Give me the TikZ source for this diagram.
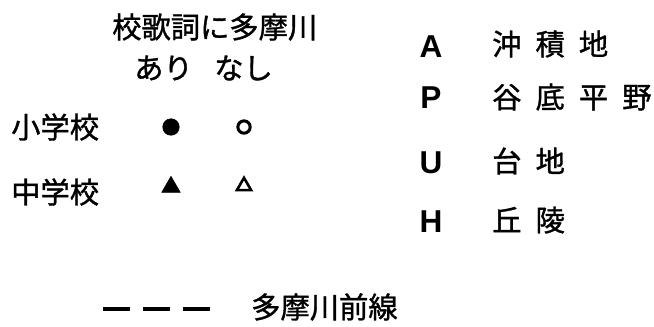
\documentclass[tikz,border=0pt]{standalone}
\usepackage{fontspec}
\setmainfont{Noto Sans CJK JP}[FakeBold=1.2]
\newfontfamily\keyfont{Liberation Sans}
\usetikzlibrary{shapes.geometric, positioning}
\newcommand{\wsp}{\hspace{12pt}}
\tikzset{
  jlabel/.style={font=\fontsize{25}{29}\selectfont, inner sep=0pt, anchor=west},
  keyletter/.style={font=\fontsize{27}{30}\keyfont\bfseries, inner sep=0pt},
  fullmark/.style={fill=black, draw=black, line width=0.6pt, inner sep=0pt},
  openmark/.style={fill=white, draw=black, line width=2.6pt, inner sep=0pt},
  frontline/.style={draw=black, line width=4pt, dash pattern=on 23pt off 11pt},
}

\begin{document}
\begin{tikzpicture}[x=0.03cm, y=-0.03cm]
  \useasboundingbox (0,0) rectangle (654,326);

  % table of schools
  \node[jlabel] (title) at (112,27) {校歌詞に多摩川};
  \node[jlabel] (yes) at (134,68) {あり};
  \node[jlabel] (no) at (214,68) {なし};
  \node[jlabel] (elem) at (11,127) {小学校};
  \node[jlabel] (junior) at (11,192) {中学校};

  \node[circle, fullmark, minimum size=14pt] (elemyes) at (171,127) {};
  \node[circle, openmark, minimum size=10.5pt] (elemno) at (244,127) {};
  \node[regular polygon, regular polygon sides=3, fullmark,
        minimum size=18pt] (junioryes) at (171,187) {};
  \node[regular polygon, regular polygon sides=3, openmark, line width=2.2pt,
        minimum size=14pt] (juniorno) at (244,186) {};

  % landform key
  \node[keyletter] (keyA) at (431,47) {A};
  \node[jlabel] (landA) at (492,44) {沖\wsp 積\wsp 地};
  \node[keyletter] (keyP) at (431,98) {P};
  \node[jlabel] (landP) at (492,97) {谷\wsp 底\wsp 平\wsp 野};
  \node[keyletter] (keyU) at (431,163) {U};
  \node[jlabel] (landU) at (492,161) {台\wsp 地};
  \node[keyletter] (keyH) at (431,222) {H};
  \node[jlabel] (landH) at (492,220) {丘\wsp 陵};

  % front line
  \coordinate (frontA) at (103,309);
  \coordinate (frontB) at (210,309);
  \draw[frontline] (frontA) -- (frontB);
  \node[jlabel] (front) at (251,307) {多摩川前線};
\end{tikzpicture}
\end{document}
